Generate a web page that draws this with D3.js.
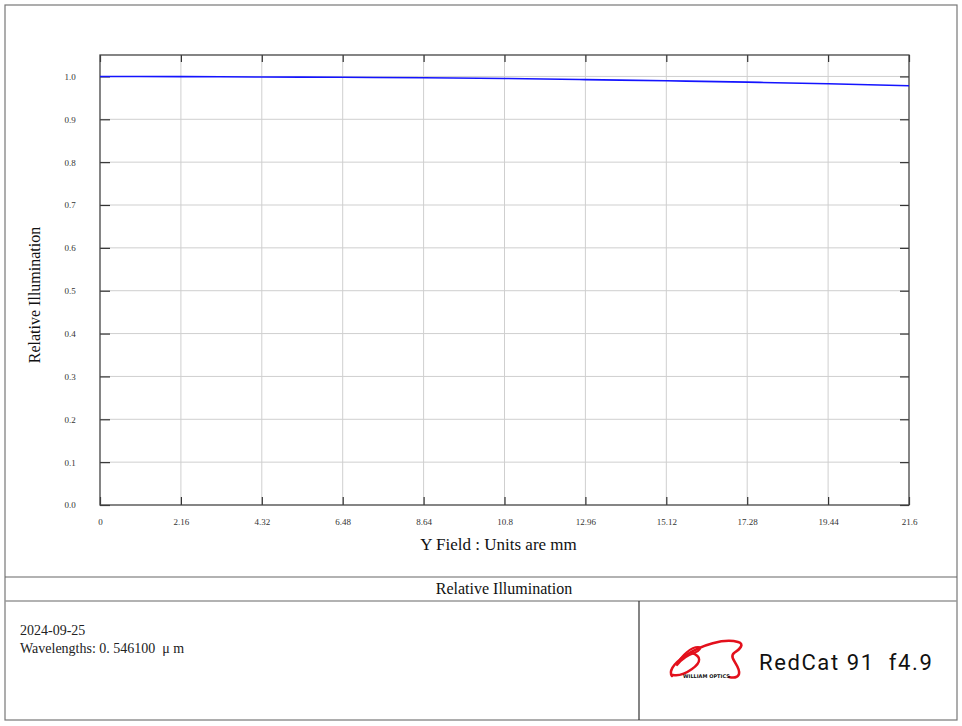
<!DOCTYPE html>
<html>
<head>
<meta charset="utf-8">
<script src="https://cdn.jsdelivr.net/npm/d3@7"></script>
<style>
  body { margin: 0; background: #fff; }
  svg { display: block; }
</style>
</head>
<body>
<div id="chart-area"></div>
<script>
// data
const fieldMm = [0, 2.16, 4.32, 6.48, 8.64, 10.8, 12.96, 15.12, 17.28, 19.44, 21.6]
const illumination = [1.0, 0.9995, 0.9987, 0.998, 0.9968, 0.9952, 0.9925, 0.9898, 0.9866, 0.9828, 0.9782]
const xTicks = [0, 2.16, 4.32, 6.48, 8.64, 10.8, 12.96, 15.12, 17.28, 19.44, 21.6]
const yTicks = [0, 0.1, 0.2, 0.3, 0.4, 0.5, 0.6, 0.7, 0.8, 0.9, 1.0]

const W = 962
const H = 726
const PLOT = { LEFT: 100, RIGHT: 909, TOP: 55, BOTTOM: 505 }

const svg = d3.select("#chart-area").append("svg")
  .attr("width", W)
  .attr("height", H)

const serif = "'Liberation Serif', 'Times New Roman', serif"

const x = d3.scaleLinear()
  .domain([0, 21.6])
  .range([PLOT.LEFT, PLOT.RIGHT])

const y = d3.scaleLinear()
  .domain([0, 1.05])
  .range([PLOT.BOTTOM, PLOT.TOP])

// grid
const grid = svg.append("g").attr("class", "grid")
grid.selectAll(".vgrid")
  .data(xTicks.slice(1, -1))
  .enter().append("line")
    .attr("x1", d => x(d)).attr("x2", d => x(d))
    .attr("y1", PLOT.TOP).attr("y2", PLOT.BOTTOM)
    .attr("stroke", "#cfcfcf")
    .attr("stroke-width", 1)
grid.selectAll(".hgrid")
  .data(yTicks.slice(1))
  .enter().append("line")
    .attr("x1", PLOT.LEFT).attr("x2", PLOT.RIGHT)
    .attr("y1", d => y(d)).attr("y2", d => y(d))
    .attr("stroke", "#cfcfcf")
    .attr("stroke-width", 1)

// axes (ticks point inward)
const tickFmt = d => d === 0 ? "0" : String(d)

const xBottom = svg.append("g")
  .attr("transform", `translate(0, ${PLOT.BOTTOM})`)
  .call(d3.axisBottom(x).tickValues(xTicks).tickSizeInner(-8).tickSizeOuter(0).tickPadding(14).tickFormat(tickFmt))
const xTop = svg.append("g")
  .attr("transform", `translate(0, ${PLOT.TOP})`)
  .call(d3.axisTop(x).tickValues(xTicks).tickSizeInner(-7).tickSizeOuter(0).tickFormat(""))
const yLeft = svg.append("g")
  .attr("transform", `translate(${PLOT.LEFT}, 0)`)
  .call(d3.axisLeft(y).tickValues(yTicks).tickSizeInner(-10).tickSizeOuter(0).tickPadding(30).tickFormat(d3.format(".1f")))
const yRight = svg.append("g")
  .attr("transform", `translate(${PLOT.RIGHT}, 0)`)
  .call(d3.axisRight(y).tickValues(yTicks).tickSizeInner(-9).tickSizeOuter(0).tickFormat(""))

svg.selectAll(".domain").remove()
svg.selectAll(".tick line").attr("stroke", "#333").attr("stroke-width", 1.2)
svg.selectAll(".tick text")
  .attr("font-family", serif)
  .attr("font-size", "9px")
  .attr("fill", "#333")
yLeft.selectAll(".tick text").attr("text-anchor", "middle")

// frame
svg.append("rect")
  .attr("x", PLOT.LEFT).attr("y", PLOT.TOP)
  .attr("width", PLOT.RIGHT - PLOT.LEFT)
  .attr("height", PLOT.BOTTOM - PLOT.TOP)
  .attr("fill", "none")
  .attr("stroke", "#444")
  .attr("stroke-width", 1.3)

// curve
const line = d3.line()
  .x((d, i) => x(fieldMm[i]))
  .y(d => y(d))
  .curve(d3.curveMonotoneX)

svg.append("path")
  .datum(illumination)
  .attr("d", line)
  .attr("fill", "none")
  .attr("stroke", "#1414ff")
  .attr("stroke-width", 1.6)

// axis labels
svg.append("text")
  .attr("x", (PLOT.LEFT + PLOT.RIGHT) / 2 - 6)
  .attr("y", 550)
  .attr("text-anchor", "middle")
  .attr("font-family", serif)
  .attr("font-size", "17px")
  .attr("fill", "#111")
  .text("Y Field : Units are mm")

svg.append("text")
  .attr("transform", "translate(40, 295) rotate(-90)")
  .attr("text-anchor", "middle")
  .attr("font-family", serif)
  .attr("font-size", "16px")
  .attr("fill", "#111")
  .text("Relative Illumination")

// page frame and info block
svg.append("rect")
  .attr("x", 5).attr("y", 5)
  .attr("width", 952).attr("height", 715)
  .attr("fill", "none")
  .attr("stroke", "#777")
  .attr("stroke-width", 1.2)

svg.append("line")
  .attr("x1", 5).attr("x2", 957).attr("y1", 577).attr("y2", 577)
  .attr("stroke", "#666").attr("stroke-width", 1.2)
svg.append("line")
  .attr("x1", 5).attr("x2", 957).attr("y1", 601).attr("y2", 601)
  .attr("stroke", "#999").attr("stroke-width", 1.5)
svg.append("line")
  .attr("x1", 639).attr("x2", 639).attr("y1", 601).attr("y2", 720)
  .attr("stroke", "#333").attr("stroke-width", 1.2)

svg.append("text")
  .attr("x", 504)
  .attr("y", 594)
  .attr("text-anchor", "middle")
  .attr("font-family", serif)
  .attr("font-size", "16px")
  .attr("fill", "#111")
  .text("Relative Illumination")

svg.append("text")
  .attr("x", 20).attr("y", 635)
  .attr("font-family", serif)
  .attr("font-size", "14px")
  .attr("fill", "#222")
  .text("2024-09-25")
svg.append("text")
  .attr("x", 20).attr("y", 653)
  .attr("font-family", serif)
  .attr("font-size", "14px")
  .attr("fill", "#222")
  .style("white-space", "pre")
  .text("Wavelengths: 0. 546100  μ m")

// logo
const logo = svg.append("g").attr("transform", "translate(668, 638)")
const red = "#e3101c"
logo.append("path")
  .attr("d", "M4,38 C0,32 8,24 18,17 C34,7 56,0 70,4 C77,6 72,11 66,15 C60,20 73,28 71,36 C70,40 65,40 61,39")
  .attr("fill", "none").attr("stroke", red).attr("stroke-width", 2.6).attr("stroke-linecap", "round")
logo.append("path")
  .attr("d", "M9,27 C13,17 24,9 30,9 C34,9 32,13 26,15 C20,17 14,21 9,27")
  .attr("fill", "none").attr("stroke", red).attr("stroke-width", 2.2).attr("stroke-linecap", "round")
logo.append("path")
  .attr("d", "M24,15 C33,18 34,24 24,31 C17,36 10,38 5,37")
  .attr("fill", "none").attr("stroke", red).attr("stroke-width", 2.4).attr("stroke-linecap", "round")
logo.append("text")
  .attr("x", 15).attr("y", 40)
  .attr("font-family", "'DejaVu Sans', sans-serif")
  .attr("font-size", "5px")
  .attr("font-weight", "bold")
  .attr("fill", "#111")
  .text("WILLIAM OPTICS")

svg.append("text")
  .attr("x", 759).attr("y", 670)
  .attr("font-family", "Roboto, 'DejaVu Sans', sans-serif")
  .attr("font-size", "22px")
  .attr("letter-spacing", "1.6px")
  .attr("fill", "#111")
  .style("white-space", "pre")
  .text("RedCat 91  f4.9")
</script>
</body>
</html>
